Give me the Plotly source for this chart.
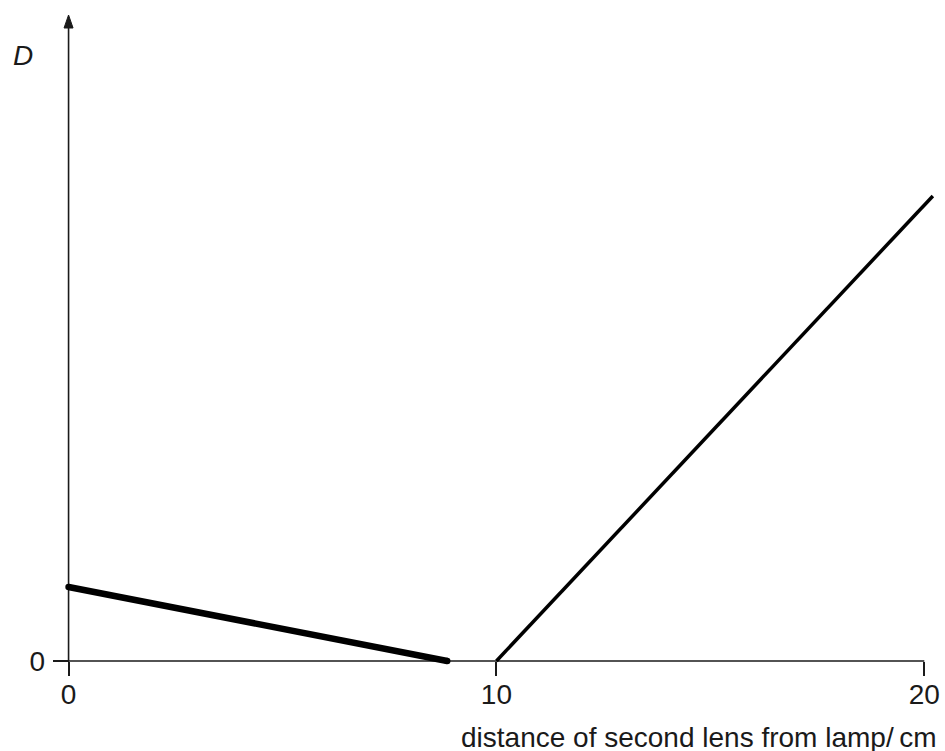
import plotly.graph_objects as go

# ---- data ----
distance_falling = [0.0, 8.85]      # cm
D_falling = [7.4, 0.0]
distance_rising = [10.0, 20.2]      # cm
D_rising = [0.0, 46.5]

x_tick_vals = [0, 10, 20]
x_tick_text = ["0", "10", "20"]
y_tick_vals = [0]
y_tick_text = ["0"]

x_title = "distance of second lens from lamp/\u2009cm"
y_title = "D"

# ---- layout constants ----
X_RANGE = [-0.2, 20.25]
Y_RANGE = [-0.5, 64.6]
Y_TOP = 63.3          # where the arrow head starts
FONT = "Liberation Sans, Arial, sans-serif"
INK = "#1a1a1a"
FS = 28

fig = go.Figure()

fig.add_trace(go.Scatter(
    x=distance_falling, y=D_falling, mode="lines+markers",
    line=dict(color="black", width=6.5),
    marker=dict(color="black", size=6.5),
    hoverinfo="skip", showlegend=False,
))
fig.add_trace(go.Scatter(
    x=distance_rising, y=D_rising, mode="lines",
    line=dict(color="black", width=3.5),
    hoverinfo="skip", showlegend=False,
))

# axis lines (x axis and y axis with arrow)
fig.add_shape(type="line", xref="x", yref="y", x0=0, x1=20, y0=0, y1=0,
              line=dict(color=INK, width=1.6), layer="below")
fig.add_shape(type="line", xref="x", yref="y", x0=0, x1=0, y0=0, y1=Y_TOP,
              line=dict(color=INK, width=1.6), layer="below")
fig.add_shape(type="path", xref="x", yref="y",
              path=f"M -0.105 {Y_TOP} L 0.105 {Y_TOP} L 0 {Y_RANGE[1]} Z",
              fillcolor=INK, line=dict(color=INK, width=1), layer="below")

x_pos = (0 - Y_RANGE[0]) / (Y_RANGE[1] - Y_RANGE[0])
y_pos = (0 - X_RANGE[0]) / (X_RANGE[1] - X_RANGE[0])

fig.update_layout(
    width=945, height=751, autosize=False,
    margin=dict(l=60.4, r=5.25, t=15, b=85),
    paper_bgcolor="white", plot_bgcolor="white",
    font=dict(family=FONT, size=FS, color=INK),
    xaxis=dict(range=X_RANGE, anchor="free", position=x_pos,
               showgrid=False, zeroline=False, showline=False,
               tickmode="array", tickvals=x_tick_vals, ticktext=x_tick_text,
               ticks="outside", ticklen=14, tickwidth=1.6, tickcolor=INK,
               ticklabelstandoff=-6,
               tickfont=dict(family=FONT, size=FS, color=INK)),
    yaxis=dict(range=Y_RANGE, anchor="free", position=y_pos,
               showgrid=False, zeroline=False, showline=False,
               tickmode="array", tickvals=y_tick_vals, ticktext=y_tick_text,
               ticks="outside", ticklen=16, tickwidth=1.6, tickcolor=INK,
               ticklabelstandoff=2,
               tickfont=dict(family=FONT, size=FS, color=INK)),
    annotations=[
        dict(text=x_title, xref="paper", yref="paper", x=1, y=0,
             xanchor="right", yanchor="middle", xshift=4, yshift=-71,
             showarrow=False,
             font=dict(family=FONT, size=FS, color=INK)),
        dict(text=f"<i>{y_title}</i>", xref="paper", yref="paper", x=0, y=1,
             xanchor="center", yanchor="middle", xshift=-37.4, yshift=-40,
             showarrow=False, font=dict(family=FONT, size=FS, color=INK)),
    ],
)

fig.write_html(
    "out.html",
    config={"displayModeBar": False},
    post_script="document.body.style.margin='0';document.body.style.overflow='hidden';",
)
